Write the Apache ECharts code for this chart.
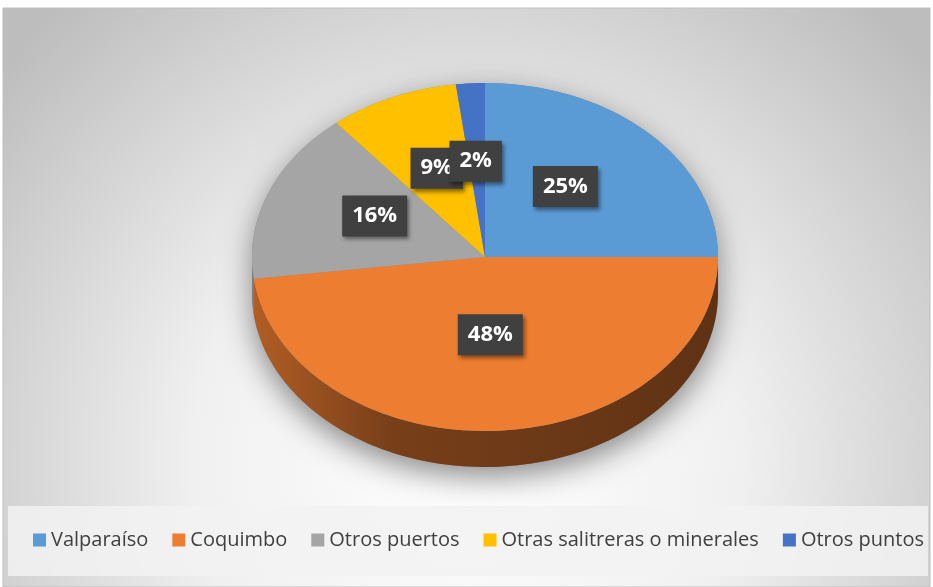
<!DOCTYPE html>
<html>
<head>
<meta charset="utf-8">
<script src="https://cdn.jsdelivr.net/npm/echarts@6/dist/echarts.min.js"></script>
<style>
  html, body { margin: 0; padding: 0; background: #fff; }
  #main { width: 933px; height: 587px; }
</style>
</head>
<body>
<div id="main"></div>
<script>
const categories = ['Valparaíso', 'Coquimbo', 'Otros puertos', 'Otras salitreras o minerales', 'Otros puntos'];
const values = [25, 48, 16, 9, 2];
const colors = ['#5b9bd5', '#ed7d31', '#a5a5a5', '#ffc000', '#4472c4'];

const total = values.reduce((a, b) => a + b, 0);

// tilted pie geometry (ellipse on screen)
const CX = 485, CY = 257, RX = 233, RY = 174, DEPTH = 36;

function pt(t, dy) {
  const a = t * Math.PI * 2;
  return [CX + RX * Math.sin(a), CY - RY * Math.cos(a) + (dy || 0)];
}
function arc(t0, t1, dy) {
  const n = Math.max(2, Math.ceil((t1 - t0) * 240));
  const out = [];
  for (let i = 0; i <= n; i++) out.push(pt(t0 + (t1 - t0) * i / n, dy));
  return out;
}
function shade(hex, k) {
  const n = parseInt(hex.slice(1), 16);
  const r = Math.round(((n >> 16) & 255) * k), g = Math.round(((n >> 8) & 255) * k), b = Math.round((n & 255) * k);
  return 'rgb(' + r + ',' + g + ',' + b + ')';
}

function renderSlice(i) {
  return function (params, api) {
    const v = api.value(0);
    let before = 0;
    for (let k = 0; k < i; k++) before += values[k];
    const t0 = before / total, t1 = (before + v) / total;
    const children = [];

    // soft shadow under the whole disc (drawn once)
    if (i === 0) {
      children.push({
        type: 'polygon', z2: -5,
        shape: { points: arc(0.75, 1.25, 0).concat(arc(0.25, 0.75, DEPTH)) },
        style: { fill: '#888', shadowBlur: 30, shadowColor: 'rgba(0,0,0,0.45)', shadowOffsetY: 10 }
      });
    }

    // side wall, only the front half is visible
    const w0 = Math.max(t0, 0.25), w1 = Math.min(t1, 0.75);
    if (w0 < w1) {
      children.push({
        type: 'polygon', z2: 0,
        shape: { points: arc(w0, w1, 0).concat(arc(w0, w1, DEPTH).reverse()) },
        style: {
          fill: {
            type: 'linear', global: true, x: CX - RX, y: 0, x2: CX + RX, y2: 0,
            colorStops: [
              { offset: 0, color: shade(colors[i], 0.75) },
              { offset: 0.3, color: shade(colors[i], 0.5) },
              { offset: 1, color: shade(colors[i], 0.4) }
            ]
          }
        }
      });
    }

    // top face
    children.push({
      type: 'polygon', z2: 10,
      shape: { points: [[CX, CY]].concat(arc(t0, t1, 0)) },
      style: { fill: colors[i] }
    });

    // data label
    const m = pt((t0 + t1) / 2, 0);
    children.push({
      type: 'text', z2: 20,
      x: CX + (m[0] - CX) * 0.5 - 2,
      y: CY + (m[1] - CY) * 0.5 - 9,
      style: {
        text: Math.round(v / total * 100) + '%',
        font: 'bold 22px "Open Sans"',
        lineHeight: 22,
        fill: '#fff',
        align: 'center',
        verticalAlign: 'middle',
        backgroundColor: '#404040',
        padding: [10, 10, 9, 10],
        shadowBlur: 4,
        shadowColor: 'rgba(0,0,0,0.45)',
        shadowOffsetX: 2,
        shadowOffsetY: 3
      }
    });

    return { type: 'group', children: children };
  };
}

const chart = echarts.init(document.getElementById('main'));

chart.setOption({
  animation: false,
  graphic: [
    {
      type: 'rect', z: -10,
      shape: { x: 3, y: 8, width: 927, height: 579 },
      style: {
        fill: {
          type: 'radial', x: 0.5, y: 0.78, r: 1.05,
          colorStops: [
            { offset: 0, color: '#ffffff' },
            { offset: 0.45, color: '#f0f0f0' },
            { offset: 1, color: '#bdbdbd' }
          ]
        },
        stroke: '#bfbfbf'
      }
    },
    {
      type: 'rect', z: -9,
      shape: { x: 8, y: 506, width: 920, height: 70 },
      style: { fill: 'rgba(242,242,242,0.85)' }
    }
  ],
  legend: {
    data: categories,
    bottom: 32,
    left: 28,
    icon: 'rect',
    itemWidth: 13,
    itemHeight: 13,
    itemGap: 24,
    textStyle: { fontFamily: 'Open Sans', fontSize: 20, color: '#404040' }
  },
  series: categories.map((name, i) => ({
    name: name,
    type: 'custom',
    coordinateSystem: 'none',
    itemStyle: { color: colors[i] },
    data: [[values[i]]],
    renderItem: renderSlice(i)
  }))
});
</script>
</body>
</html>
